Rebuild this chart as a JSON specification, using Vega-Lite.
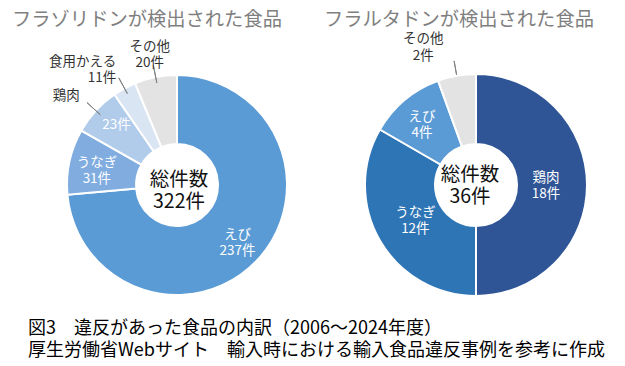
{
  "$schema": "https://vega.github.io/schema/vega-lite/v6.json",
  "padding": {"left": 12, "top": 10, "right": 0, "bottom": 0},
  "spacing": 39,
  "bounds": "flush",
  "resolve": {"scale": {"color": "independent"}},
  "config": {"view": {"stroke": null}, "font": "Noto Sans CJK JP"},
  "title": {
    "text": ["図3　違反があった食品の内訳（2006～2024年度）", "厚生労働省Webサイト　輸入時における輸入食品違反事例を参考に作成"],
    "orient": "bottom",
    "anchor": "start",
    "frame": "group",
    "fontSize": 18,
    "fontWeight": "normal",
    "color": "#000000",
    "lineHeight": 22,
    "offset": 11,
    "dx": -19
  },
  "hconcat": [
    {
      "width": 260,
      "height": 230,
      "title": {"text": "フラゾリドンが検出された食品", "fontSize": 19.3, "fontWeight": "normal", "color": "#7f7f7f", "anchor": "middle", "frame": "group", "dx": -30, "offset": 9},
      "data": {"values": [
        {"food": "えび", "count": 237, "k": 1, "inner": "えび\n237件", "outer": ""},
        {"food": "うなぎ", "count": 31, "k": 2, "inner": "うなぎ\n31件", "outer": ""},
        {"food": "鶏肉", "count": 23, "k": 3, "inner": "23件", "outer": "鶏肉"},
        {"food": "食用かえる", "count": 11, "k": 4, "inner": "", "outer": "食用かえる\n11件"},
        {"food": "その他", "count": 20, "k": 5, "inner": "", "outer": "その他\n20件"}
      ]},
      "layer": [
        {
          "mark": {"type": "arc", "radius": 110, "radius2": 41, "stroke": "white", "strokeWidth": 2},
          "encoding": {
            "theta": {"field": "count", "type": "quantitative", "stack": true},
            "order": {"field": "k", "type": "quantitative"},
            "color": {"field": "food", "type": "nominal", "legend": null,
              "scale": {"domain": ["えび", "うなぎ", "鶏肉", "食用かえる", "その他"], "range": ["#5b9bd5", "#80acdf", "#b1cbea", "#dae5f4", "#e3e3e3"]}}
          }
        },
        {
          "mark": {"type": "arc", "radius": 122, "radius2": 104, "padAngle": 3, "fill": "transparent", "strokeWidth": 1},
          "encoding": {
            "theta": {"field": "count", "type": "quantitative", "stack": true},
            "order": {"field": "k", "type": "quantitative"},
            "detail": {"field": "food", "type": "nominal"},
            "stroke": {"condition": {"test": "datum.outer !== ''", "value": "#808080"}, "value": "transparent"}
          }
        },
        {
          "mark": {"type": "text", "radius": 82, "dy": -5, "lineBreak": "\n", "color": "white", "fontSize": 13.5, "lineHeight": 16},
          "encoding": {
            "theta": {"field": "count", "type": "quantitative", "stack": true},
            "order": {"field": "k", "type": "quantitative"},
            "detail": {"field": "food", "type": "nominal"},
            "text": {"field": "inner", "type": "nominal"}
          }
        },
        {
          "mark": {"type": "text", "radius": 132, "align": "right", "lineBreak": "\n", "color": "#333333", "fontSize": 13.5, "lineHeight": 16},
          "encoding": {
            "theta": {"field": "count", "type": "quantitative", "stack": true},
            "order": {"field": "k", "type": "quantitative"},
            "detail": {"field": "food", "type": "nominal"},
            "text": {"condition": {"test": "datum.food === '鶏肉'", "field": "outer", "type": "nominal"}, "value": ""}
          }
        },
        {
          "mark": {"type": "text", "radius": 140, "align": "right", "dx": 6, "lineBreak": "\n", "color": "#333333", "fontSize": 13.5, "lineHeight": 16},
          "encoding": {
            "theta": {"field": "count", "type": "quantitative", "stack": true},
            "order": {"field": "k", "type": "quantitative"},
            "detail": {"field": "food", "type": "nominal"},
            "text": {"condition": {"test": "datum.food === '食用かえる'", "field": "outer", "type": "nominal"}, "value": ""}
          }
        },
        {
          "mark": {"type": "text", "radius": 141, "align": "center", "lineBreak": "\n", "color": "#333333", "fontSize": 13.5, "lineHeight": 16},
          "encoding": {
            "theta": {"field": "count", "type": "quantitative", "stack": true},
            "order": {"field": "k", "type": "quantitative"},
            "detail": {"field": "food", "type": "nominal"},
            "text": {"condition": {"test": "datum.food === 'その他'", "field": "outer", "type": "nominal"}, "value": ""}
          }
        },
        {
          "data": {"values": [{"t": "総件数\n322件"}]},
          "mark": {"type": "text", "lineBreak": "\n", "fontSize": 19.5, "lineHeight": 22, "color": "#111111", "dy": -5, "dx": 2},
          "encoding": {"text": {"field": "t", "type": "nominal"}}
        }
      ]
    },
    {
      "width": 260,
      "height": 230,
      "title": {"text": "フラルタドンが検出された食品", "fontSize": 19.3, "fontWeight": "normal", "color": "#7f7f7f", "anchor": "middle", "frame": "group", "dx": -17, "offset": 2},
      "data": {"values": [
        {"food": "鶏肉", "count": 18, "k": 1, "inner": "鶏肉\n18件", "outer": ""},
        {"food": "うなぎ", "count": 12, "k": 2, "inner": "うなぎ\n12件", "outer": ""},
        {"food": "えび", "count": 4, "k": 3, "inner": "えび\n4件", "outer": ""},
        {"food": "その他", "count": 2, "k": 4, "inner": "", "outer": "その他\n2件"}
      ]},
      "layer": [
        {
          "mark": {"type": "arc", "radius": 111, "radius2": 41, "stroke": "white", "strokeWidth": 2},
          "encoding": {
            "theta": {"field": "count", "type": "quantitative", "stack": true},
            "order": {"field": "k", "type": "quantitative"},
            "color": {"field": "food", "type": "nominal", "legend": null,
              "scale": {"domain": ["鶏肉", "うなぎ", "えび", "その他"], "range": ["#2f5597", "#2e75b6", "#5b9bd5", "#e3e3e3"]}}
          }
        },
        {
          "mark": {"type": "arc", "radius": 126, "radius2": 112, "padAngle": 3, "fill": "transparent", "strokeWidth": 1},
          "encoding": {
            "theta": {"field": "count", "type": "quantitative", "stack": true},
            "order": {"field": "k", "type": "quantitative"},
            "detail": {"field": "food", "type": "nominal"},
            "stroke": {"condition": {"test": "datum.outer !== ''", "value": "#808080"}, "value": "transparent"}
          }
        },
        {
          "mark": {"type": "text", "radius": 70, "dy": -7, "lineBreak": "\n", "color": "white", "fontSize": 13.5, "lineHeight": 16},
          "encoding": {
            "theta": {"field": "count", "type": "quantitative", "stack": true},
            "order": {"field": "k", "type": "quantitative"},
            "detail": {"field": "food", "type": "nominal"},
            "text": {"condition": {"test": "datum.food !== 'えび'", "field": "inner", "type": "nominal"}, "value": ""}
          }
        },
        {
          "mark": {"type": "text", "radius": 84, "dy": -4, "lineBreak": "\n", "color": "white", "fontSize": 13.5, "lineHeight": 16},
          "encoding": {
            "theta": {"field": "count", "type": "quantitative", "stack": true},
            "order": {"field": "k", "type": "quantitative"},
            "detail": {"field": "food", "type": "nominal"},
            "text": {"condition": {"test": "datum.food === 'えび'", "field": "inner", "type": "nominal"}, "value": ""}
          }
        },
        {
          "mark": {"type": "text", "radius": 148, "align": "center", "dx": -27, "lineBreak": "\n", "color": "#333333", "fontSize": 13.5, "lineHeight": 17},
          "encoding": {
            "theta": {"field": "count", "type": "quantitative", "stack": true},
            "order": {"field": "k", "type": "quantitative"},
            "detail": {"field": "food", "type": "nominal"},
            "text": {"field": "outer", "type": "nominal"}
          }
        },
        {
          "data": {"values": [{"t": "総件数\n36件"}]},
          "mark": {"type": "text", "lineBreak": "\n", "fontSize": 19.5, "lineHeight": 22, "color": "#111111", "dy": -10, "dx": -6},
          "encoding": {"text": {"field": "t", "type": "nominal"}}
        }
      ]
    }
  ]
}
